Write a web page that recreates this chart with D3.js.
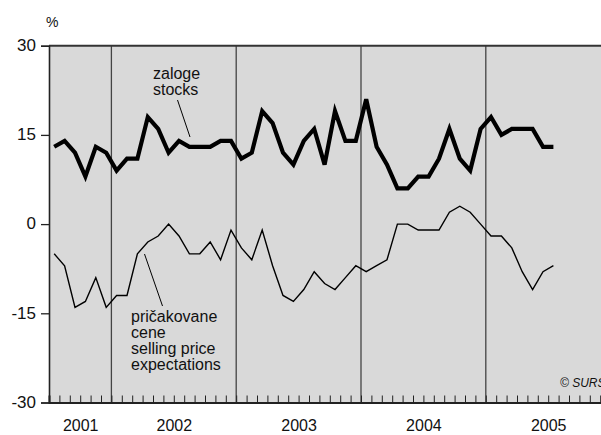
<!DOCTYPE html>
<html lang="sl">
<head>
<meta charset="utf-8">
<title>Zaloge in pričakovane cene</title>
<script src="https://d3js.org/d3.v7.min.js"></script>
<style>
body { margin: 0; background: #fff; }
svg text { font-family: "Liberation Sans", Arial, sans-serif; fill: #111; }
.plot-bg { fill: #d9d9d9; }
.year-line { stroke: #444; stroke-width: 1.3; }
.stocks { fill: none; stroke: #000; stroke-width: 4.2; stroke-linejoin: miter; }
.prices { fill: none; stroke: #000; stroke-width: 1.4; }
.pointer { stroke: #000; stroke-width: 1; }
</style>
</head>
<body>
<script>

// monthly data, July 2001 - July 2005
var zaloge = [13, 14, 12, 8, 13, 12,
  9, 11, 11, 18, 16, 12, 14, 13, 13, 13, 14, 14,
  11, 12, 19, 17, 12, 10, 14, 16, 10, 19, 14, 14,
  21, 13, 10, 6, 6, 8, 8, 11, 16, 11, 9, 16,
  18, 15, 16, 16, 16, 13, 13];

var cene = [-5, -7, -14, -13, -9, -14,
  -12, -12, -5, -3, -2, 0, -2, -5, -5, -3, -6, -1,
  -4, -6, -1, -7, -12, -13, -11, -8, -10, -11, -9, -7,
  -8, -7, -6, 0, 0, -1, -1, -1, 2, 3, 2, 0,
  -2, -2, -4, -8, -11, -8, -7];

var years = ["2001", "2002", "2003", "2004", "2005"];
var yearStartMonth = [0, 6, 18, 30, 42];   // month index from Jul 2001
var totalMonths = 54;                      // axis runs to end of 2005
var yTicks = [-30, -15, 0, 15, 30];

var width = 601, height = 435;
var plotLeft = 49, plotTop = 45.7, plotBottom = 402.5;
var monthW = 10.4;

var svg = d3.select("body").append("svg")
  .attr("width", width)
  .attr("height", height);

var x = d3.scaleLinear()
  .domain([0, totalMonths])
  .range([plotLeft, plotLeft + totalMonths * monthW]);

var y = d3.scaleLinear()
  .domain([-30, 30])
  .range([plotBottom, plotTop]);

// grey plot area
svg.append("rect")
  .attr("class", "plot-bg")
  .attr("x", x(0))
  .attr("y", y(30))
  .attr("width", x(totalMonths) - x(0))
  .attr("height", y(-30) - y(30));

// year separators
svg.selectAll(".year-line")
  .data(yearStartMonth.slice(1))
  .enter().append("line")
  .attr("class", "year-line")
  .attr("x1", function(d) { return x(d); })
  .attr("x2", function(d) { return x(d); })
  .attr("y1", y(30))
  .attr("y2", y(-30));

// month ticks (inside, at bottom)
var monthAxis = d3.axisBottom(x)
  .tickValues(d3.range(0, totalMonths + 1))
  .tickSize(-7)
  .tickFormat("");

svg.append("g")
  .attr("transform", "translate(0," + y(-30) + ")")
  .call(monthAxis)
  .call(function(g) {
    g.select(".domain").attr("stroke", "#222").attr("stroke-width", 2);
    g.selectAll(".tick line").attr("stroke", "#222").attr("stroke-width", 1);
  });

// year labels
var yearMid = yearStartMonth.map(function(s, i) {
  var e = i < yearStartMonth.length - 1 ? yearStartMonth[i + 1] : totalMonths;
  return (s + e) / 2;
});

var yearAxis = d3.axisBottom(x)
  .tickValues(yearMid)
  .tickSize(0)
  .tickPadding(17)
  .tickFormat(function(d, i) { return years[i]; });

svg.append("g")
  .attr("transform", "translate(0," + y(-30) + ")")
  .call(yearAxis)
  .call(function(g) {
    g.select(".domain").remove();
    g.selectAll("text").style("font-size", "16px")
      .style("font-family", "'Liberation Sans', Arial, sans-serif")
      .attr("fill", "#111");
  });

// top frame line
svg.append("line")
  .attr("x1", x(0)).attr("x2", x(totalMonths))
  .attr("y1", y(30)).attr("y2", y(30))
  .attr("stroke", "#333").attr("stroke-width", 2);

// y axis
var yAxis = d3.axisLeft(y)
  .tickValues(yTicks)
  .tickSize(8)
  .tickPadding(5)
  .tickFormat(function(d) { return String(d); });

svg.append("g")
  .attr("transform", "translate(" + x(0) + ",0)")
  .call(yAxis)
  .call(function(g) {
    g.select(".domain").attr("stroke", "#222").attr("stroke-width", 1.6);
    g.selectAll(".tick line").attr("stroke", "#222").attr("stroke-width", 1.3);
    g.selectAll("text").style("font-size", "17px")
      .style("font-family", "'Liberation Sans', Arial, sans-serif")
      .attr("fill", "#111").attr("dy", "0.28em");
  });

svg.append("text")
  .attr("x", 46)
  .attr("y", 27)
  .style("font-size", "14px")
  .text("%");

// lines
var line = d3.line()
  .x(function(d, i) { return x(i + 0.5); })
  .y(function(d) { return y(d); });

svg.append("path")
  .datum(cene)
  .attr("class", "prices")
  .attr("d", line);

svg.append("path")
  .datum(zaloge)
  .attr("class", "stocks")
  .attr("d", line);

// labels with pointers
svg.append("line").attr("class", "pointer")
  .attr("x1", 177.5).attr("y1", 100).attr("x2", 190).attr("y2", 137);

svg.append("text")
  .attr("x", 153)
  .attr("y", 79)
  .style("font-size", "16px")
  .selectAll("tspan")
  .data(["zaloge", "stocks"])
  .enter().append("tspan")
  .attr("x", 153)
  .attr("dy", function(d, i) { return i ? 16 : 0; })
  .text(function(d) { return d; });

svg.append("line").attr("class", "pointer")
  .attr("x1", 144.5).attr("y1", 254).attr("x2", 162.5).attr("y2", 306);

svg.append("text")
  .attr("x", 131)
  .attr("y", 322)
  .style("font-size", "16px")
  .selectAll("tspan")
  .data(["pričakovane", "cene", "selling price", "expectations"])
  .enter().append("tspan")
  .attr("x", 131)
  .attr("dy", function(d, i) { return i ? 16 : 0; })
  .text(function(d) { return d; });

// source note, cut by the right edge as in the original
svg.append("text")
  .attr("x", 560)
  .attr("y", 387)
  .style("font-size", "12px")
  .style("font-style", "italic")
  .attr("fill", "#222")
  .text("© SURS");

</script>
</body>
</html>
